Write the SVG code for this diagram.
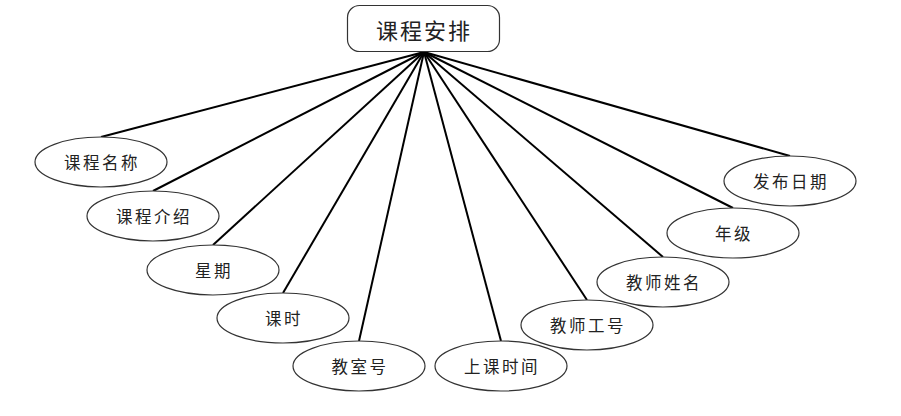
<svg xmlns="http://www.w3.org/2000/svg" width="901" height="416" viewBox="0 0 901 416">
<style>
.n ellipse{fill:#fff;stroke:#333;stroke-width:1.2}
.n text{font-family:"Noto Sans CJK SC","Noto Sans",sans-serif;font-size:16.5px;fill:#222;text-anchor:middle;dominant-baseline:central;letter-spacing:2.5px}
.c line{stroke:#000;stroke-width:2}
</style>
<rect width="901" height="416" fill="#fff"/>
<g class="c" id="connectors">
<line x1="424" y1="52" x2="101" y2="137"/>
<line x1="424" y1="52" x2="153" y2="191"/>
<line x1="424" y1="52" x2="213" y2="245"/>
<line x1="424" y1="52" x2="283" y2="293"/>
<line x1="424" y1="52" x2="359" y2="341"/>
<line x1="424" y1="52" x2="501" y2="341"/>
<line x1="424" y1="52" x2="587" y2="300"/>
<line x1="424" y1="52" x2="663" y2="257"/>
<line x1="424" y1="52" x2="733" y2="208"/>
<line x1="424" y1="52" x2="790" y2="156"/>
</g>
<g id="root">
<rect x="347.5" y="5.5" width="152" height="46" rx="12" fill="#fff" stroke="#333" stroke-width="1.2"/>
<text x="424" y="29" style="font-family:'Noto Sans CJK SC','Noto Sans',sans-serif;font-size:22px;fill:#222;text-anchor:middle;dominant-baseline:central;letter-spacing:2px">课程安排</text>
</g>
<g class="n" id="n1"><ellipse cx="101" cy="162" rx="66" ry="25"/><text x="102" y="162">课程名称</text></g>
<g class="n" id="n2"><ellipse cx="153" cy="216" rx="66" ry="25"/><text x="154" y="216">课程介绍</text></g>
<g class="n" id="n3"><ellipse cx="213" cy="270" rx="66" ry="25"/><text x="214" y="270">星期</text></g>
<g class="n" id="n4"><ellipse cx="283" cy="318" rx="66" ry="25"/><text x="284" y="318">课时</text></g>
<g class="n" id="n5"><ellipse cx="359" cy="366" rx="66" ry="25"/><text x="360" y="366">教室号</text></g>
<g class="n" id="n6"><ellipse cx="501" cy="366" rx="66" ry="25"/><text x="502" y="366">上课时间</text></g>
<g class="n" id="n7"><ellipse cx="587" cy="325" rx="66" ry="25"/><text x="588" y="325">教师工号</text></g>
<g class="n" id="n8"><ellipse cx="663" cy="282" rx="66" ry="25"/><text x="664" y="282">教师姓名</text></g>
<g class="n" id="n9"><ellipse cx="733" cy="233" rx="66" ry="25"/><text x="734" y="233">年级</text></g>
<g class="n" id="n10"><ellipse cx="790" cy="181" rx="66" ry="25"/><text x="791" y="181">发布日期</text></g>
</svg>
